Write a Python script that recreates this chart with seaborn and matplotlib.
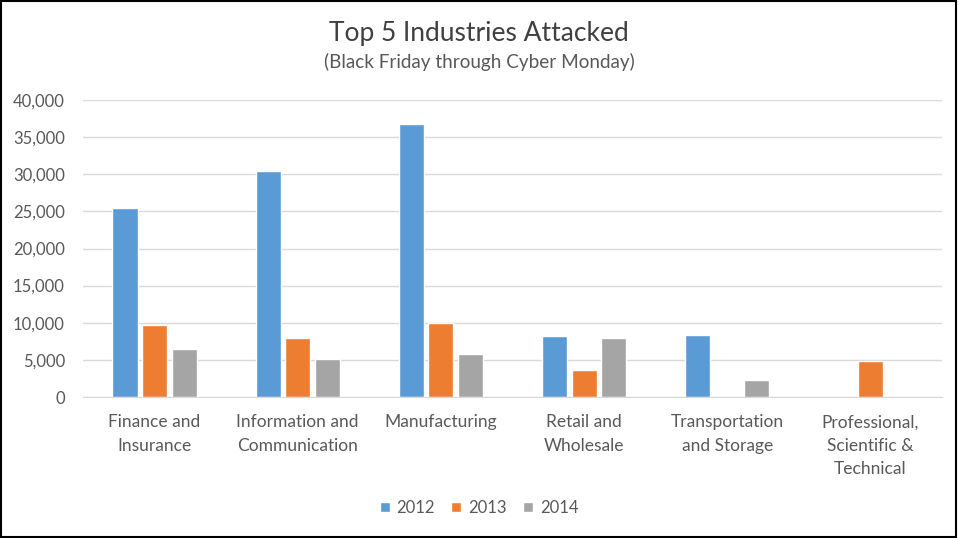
import matplotlib
matplotlib.use('Agg')
import matplotlib.pyplot as plt
import seaborn as sns
import pandas as pd
import numpy as np
from matplotlib.ticker import FuncFormatter
from matplotlib.patches import Rectangle

# ==========================================
# Data
# ==========================================
industries = [
    'Finance and\nInsurance', 'Information and\nCommunication', 'Manufacturing',
    'Retail and\nWholesale', 'Transportation\nand Storage', 'Professional,\nScientific &\nTechnical'
]
years = ['2012', '2013', '2014']
attacks_2012 = [25500, 30400, 36800, 8200, 8400, np.nan]
attacks_2013 = [9700, 8000, 10000, 3600, np.nan, 4900]
attacks_2014 = [6500, 5100, 5800, 7900, 2300, np.nan]
colors = ['#5B9BD5', '#ED7D31', '#A5A5A5']

df = pd.DataFrame({
    'Industry': industries * 3,
    'Year': [y for y in years for _ in industries],
    'Attacks': attacks_2012 + attacks_2013 + attacks_2014,
})

sns.set_style('white')
plt.rcParams['font.family'] = ['Lato', 'DejaVu Sans']
text_col = '#595959'

fig = plt.figure(figsize=(9.58, 5.38), dpi=100)
ax = fig.add_axes([83 / 958, 1 - 397 / 538, (942 - 83) / 958, 297 / 538])

sns.barplot(data=df, x='Industry', y='Attacks', hue='Year', order=industries,
            hue_order=years, palette=colors, width=0.62, gap=0.15,
            saturation=1, ax=ax, legend=True)

ax.set_ylim(0, 40000)
ax.set_yticks(range(0, 40001, 5000))
ax.yaxis.set_major_formatter(FuncFormatter(lambda v, p: f'{int(v):,}'))
ax.yaxis.grid(True, color='#D9D9D9', linewidth=1)
ax.set_axisbelow(True)
for s in ['top', 'right', 'left']:
    ax.spines[s].set_visible(False)
ax.spines['bottom'].set_color('#D9D9D9')
ax.tick_params(axis='both', length=0, colors=text_col)
ax.tick_params(axis='y', pad=13, labelsize=12)
ax.tick_params(axis='x', pad=12.5, labelsize=12.5)
ax.set_xlabel('')
ax.set_ylabel('')
for lbl in ax.get_xticklabels():
    lbl.set_linespacing(1.55)
    lbl.set_verticalalignment('top')

ax.legend(loc='center', bbox_to_anchor=(0.5, (538 - 508) / 538), bbox_transform=fig.transFigure,
          ncol=3, frameon=False, fontsize=12, handlelength=0.6, handleheight=0.6,
          handletextpad=0.4, columnspacing=1.0, labelcolor=text_col)

fig.text(0.5, 1 - 33 / 538, 'Top 5 Industries Attacked', ha='center', va='center',
         fontsize=19, color='#404040')
fig.text(0.5, 1 - 62 / 538, '(Black Friday through Cyber Monday)', ha='center', va='center',
         fontsize=13.6, color=text_col)

# figure frame
fig.patches.append(Rectangle((0.001, 0.001), 0.997, 0.997, transform=fig.transFigure,
                             fill=False, edgecolor='black', linewidth=1.5))

fig.savefig('out.png', dpi=100)
